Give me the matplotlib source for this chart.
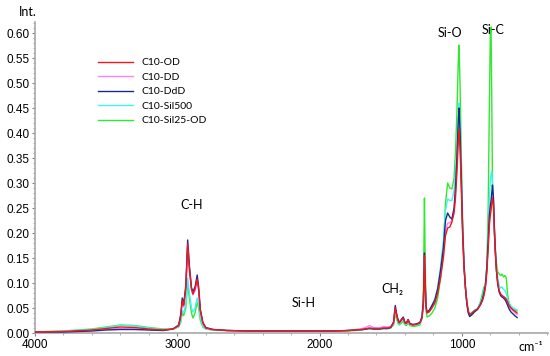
import matplotlib
matplotlib.use("Agg")
import matplotlib.pyplot as plt
from matplotlib.ticker import MultipleLocator, FormatStrFormatter

# wavenumber grid (cm-1)
wn = [4000, 3800, 3600, 3500, 3400, 3300, 3200, 3100, 3030, 2990,
      2975, 2965, 2955, 2940, 2927, 2915, 2900, 2890, 2875, 2860,
      2850, 2838, 2820, 2800, 2750, 2650, 2500, 2300, 2100, 1900,
      1800, 1750, 1700, 1670, 1650, 1620, 1580, 1550, 1520, 1500,
      1480, 1468, 1460, 1450, 1440, 1425, 1412, 1400, 1390, 1378,
      1365, 1345, 1320, 1295, 1280, 1270, 1263, 1258, 1252, 1245,
      1230, 1210, 1190, 1170, 1150, 1130, 1115, 1100, 1085, 1070,
      1055, 1045, 1035, 1025, 1020, 1013, 1005, 995, 985, 975,
      965, 955, 945, 930, 910, 890, 870, 855, 845, 835,
      825, 815, 807, 800, 795, 790, 785, 778, 772, 765,
      757, 748, 738, 728, 718, 708, 698, 688, 678, 668,
      655, 640, 625, 612]

c10_od = [0.002, 0.003, 0.006, 0.009, 0.012, 0.011, 0.008, 0.006, 0.008, 0.015,
          0.035, 0.065, 0.055, 0.090, 0.178, 0.130, 0.088, 0.078, 0.088, 0.108,
          0.088, 0.045, 0.020, 0.010, 0.007, 0.005, 0.004, 0.004, 0.004, 0.004,
          0.005, 0.006, 0.007, 0.009, 0.010, 0.009, 0.009, 0.010, 0.010, 0.012,
          0.020, 0.050, 0.038, 0.026, 0.020, 0.026, 0.030, 0.020, 0.019, 0.026,
          0.018, 0.016, 0.017, 0.020, 0.030, 0.060, 0.155, 0.100, 0.052, 0.040,
          0.042, 0.050, 0.060, 0.080, 0.110, 0.150, 0.195, 0.210, 0.212, 0.222,
          0.240, 0.270, 0.320, 0.385, 0.406, 0.370, 0.300, 0.200, 0.130, 0.090,
          0.062, 0.044, 0.037, 0.040, 0.045, 0.048, 0.056, 0.065, 0.075, 0.090,
          0.120, 0.170, 0.215, 0.235, 0.245, 0.258, 0.270, 0.255, 0.205, 0.160,
          0.125, 0.100, 0.085, 0.078, 0.075, 0.073, 0.071, 0.068, 0.062, 0.055,
          0.050, 0.046, 0.043, 0.040]

c10_dd = [0.002, 0.003, 0.005, 0.007, 0.009, 0.008, 0.007, 0.005, 0.008, 0.015,
          0.034, 0.062, 0.052, 0.086, 0.170, 0.125, 0.085, 0.076, 0.085, 0.104,
          0.085, 0.043, 0.019, 0.010, 0.007, 0.005, 0.004, 0.004, 0.004, 0.004,
          0.005, 0.007, 0.009, 0.012, 0.015, 0.011, 0.010, 0.013, 0.012, 0.013,
          0.021, 0.052, 0.039, 0.027, 0.021, 0.027, 0.031, 0.021, 0.020, 0.026,
          0.018, 0.017, 0.018, 0.021, 0.031, 0.060, 0.150, 0.098, 0.052, 0.041,
          0.043, 0.052, 0.062, 0.083, 0.115, 0.158, 0.205, 0.220, 0.220, 0.225,
          0.245, 0.280, 0.335, 0.405, 0.428, 0.390, 0.310, 0.205, 0.132, 0.090,
          0.060, 0.042, 0.035, 0.039, 0.044, 0.048, 0.056, 0.066, 0.077, 0.092,
          0.124, 0.178, 0.225, 0.245, 0.255, 0.268, 0.282, 0.262, 0.210, 0.162,
          0.125, 0.100, 0.085, 0.078, 0.075, 0.073, 0.070, 0.066, 0.060, 0.053,
          0.048, 0.044, 0.040, 0.037]

c10_ddd = [0.002, 0.002, 0.004, 0.006, 0.007, 0.007, 0.006, 0.005, 0.008, 0.016,
           0.038, 0.070, 0.057, 0.095, 0.186, 0.135, 0.090, 0.083, 0.092, 0.116,
           0.092, 0.047, 0.021, 0.011, 0.007, 0.005, 0.004, 0.004, 0.004, 0.004,
           0.005, 0.006, 0.007, 0.008, 0.009, 0.008, 0.008, 0.009, 0.009, 0.011,
           0.022, 0.055, 0.040, 0.028, 0.021, 0.027, 0.032, 0.021, 0.020, 0.027,
           0.019, 0.017, 0.018, 0.021, 0.032, 0.065, 0.160, 0.105, 0.055, 0.042,
           0.045, 0.055, 0.066, 0.088, 0.125, 0.170, 0.225, 0.240, 0.232, 0.228,
           0.250, 0.290, 0.350, 0.425, 0.450, 0.405, 0.320, 0.210, 0.135, 0.092,
           0.058, 0.040, 0.033, 0.037, 0.043, 0.047, 0.057, 0.068, 0.080, 0.095,
           0.128, 0.185, 0.235, 0.255, 0.265, 0.280, 0.296, 0.270, 0.215, 0.165,
           0.125, 0.098, 0.082, 0.075, 0.072, 0.070, 0.067, 0.062, 0.055, 0.048,
           0.042, 0.038, 0.034, 0.031]

c10_sil500 = [0.002, 0.004, 0.007, 0.011, 0.015, 0.014, 0.010, 0.007, 0.008, 0.013,
              0.025, 0.045, 0.040, 0.058, 0.110, 0.080, 0.050, 0.042, 0.050, 0.070,
              0.058, 0.030, 0.014, 0.008, 0.006, 0.005, 0.004, 0.004, 0.004, 0.004,
              0.005, 0.006, 0.007, 0.008, 0.009, 0.008, 0.008, 0.009, 0.009, 0.011,
              0.018, 0.045, 0.034, 0.024, 0.018, 0.024, 0.028, 0.018, 0.018, 0.023,
              0.017, 0.015, 0.016, 0.019, 0.030, 0.062, 0.150, 0.100, 0.050, 0.040,
              0.045, 0.056, 0.068, 0.092, 0.132, 0.185, 0.245, 0.268, 0.265, 0.265,
              0.285, 0.320, 0.370, 0.435, 0.460, 0.415, 0.330, 0.215, 0.138, 0.092,
              0.062, 0.045, 0.038, 0.041, 0.046, 0.050, 0.060, 0.072, 0.085, 0.100,
              0.135, 0.200, 0.270, 0.305, 0.318, 0.322, 0.300, 0.265, 0.215, 0.170,
              0.135, 0.110, 0.095, 0.090, 0.092, 0.088, 0.085, 0.078, 0.068, 0.060,
              0.054, 0.050, 0.048, 0.046]

c10_sil25_od = [0.002, 0.004, 0.008, 0.012, 0.016, 0.015, 0.011, 0.008, 0.008, 0.012,
                0.022, 0.040, 0.035, 0.050, 0.100, 0.070, 0.040, 0.030, 0.040, 0.062,
                0.050, 0.025, 0.012, 0.008, 0.006, 0.005, 0.004, 0.004, 0.004, 0.004,
                0.004, 0.005, 0.006, 0.008, 0.009, 0.008, 0.008, 0.009, 0.009, 0.010,
                0.016, 0.040, 0.030, 0.020, 0.016, 0.020, 0.024, 0.016, 0.015, 0.020,
                0.015, 0.013, 0.014, 0.016, 0.030, 0.090, 0.270, 0.150, 0.045, 0.032,
                0.034, 0.040, 0.050, 0.070, 0.110, 0.170, 0.260, 0.300, 0.290, 0.288,
                0.310, 0.360, 0.440, 0.545, 0.576, 0.500, 0.370, 0.230, 0.140, 0.090,
                0.060, 0.042, 0.034, 0.036, 0.042, 0.048, 0.062, 0.080, 0.092, 0.095,
                0.130, 0.250, 0.450, 0.600, 0.612, 0.470, 0.300, 0.260, 0.200, 0.170,
                0.140, 0.122, 0.118, 0.115, 0.118, 0.112, 0.115, 0.110, 0.075, 0.060,
                0.052, 0.048, 0.045, 0.044]

labels = ["C10-OD", "C10-DD", "C10-DdD", "C10-Sil500", "C10-Sil25-OD"]
colors = ["#f01818", "#ff80ff", "#1c2a8c", "#40f4f4", "#30e830"]
series = [c10_od, c10_dd, c10_ddd, c10_sil500, c10_sil25_od]
zorders = [6, 4, 5, 3, 2]

fig = plt.figure(figsize=(5.5, 3.56), dpi=100)
ax = fig.add_axes([0.0636, 0.0646, 0.9327, 0.8736])

for y, lab, col, z in zip(series, labels, colors, zorders):
    ax.plot(wn, y, color=col, lw=1.0, label=lab, zorder=z)

ax.set_xlim(4000, 395)
ax.set_ylim(0, 0.622)

for s in ["top", "right"]:
    ax.spines[s].set_visible(False)
for s in ["left", "bottom"]:
    ax.spines[s].set_color("#a8a8a8")
    ax.spines[s].set_linewidth(1.2)

ax.xaxis.set_major_locator(MultipleLocator(1000))
ax.xaxis.set_minor_locator(MultipleLocator(200))
ax.yaxis.set_major_locator(MultipleLocator(0.05))
ax.yaxis.set_minor_locator(MultipleLocator(0.01))
ax.yaxis.set_major_formatter(FormatStrFormatter("%.2f"))
ax.tick_params(which="major", length=2.5, width=0.8, color="#808080",
               labelsize=8.5, pad=1.5)
ax.tick_params(which="minor", length=1.5, width=0.6, color="#a0a0a0")
for t in ax.get_xticklabels() + ax.get_yticklabels():
    t.set_fontfamily("Liberation Sans")

ann = dict(ha="center", va="center", fontsize=9, family=["Lato", "DejaVu Sans"])
ax.text(2897, 0.256, "C-H", **ann)
ax.text(2110, 0.060, "Si-H", **ann)
ax.text(1491, 0.088, "CH₂", **ann)
ax.text(1084, 0.600, "Si-O", **ann)
ax.text(781, 0.606, "Si-C", **ann)

fig.text(28 / 550, 1 - 12 / 356, "Int.", ha="center", va="center",
         fontsize=9, family=["Lato", "DejaVu Sans"])
fig.text(531 / 550, 1 - 347 / 356, "cm⁻¹", ha="center", va="center",
         fontsize=9, family=["Lato", "DejaVu Sans"])

leg = ax.legend(loc="upper left", bbox_to_anchor=(98 / 550, 1 - 58 / 356),
                bbox_transform=fig.transFigure, frameon=False, borderpad=0,
                borderaxespad=0, handlelength=3.4, handletextpad=0.8,
                labelspacing=0.5, prop={"family": "Lato", "size": 7.5})

fig.savefig("out.png", dpi=100)
